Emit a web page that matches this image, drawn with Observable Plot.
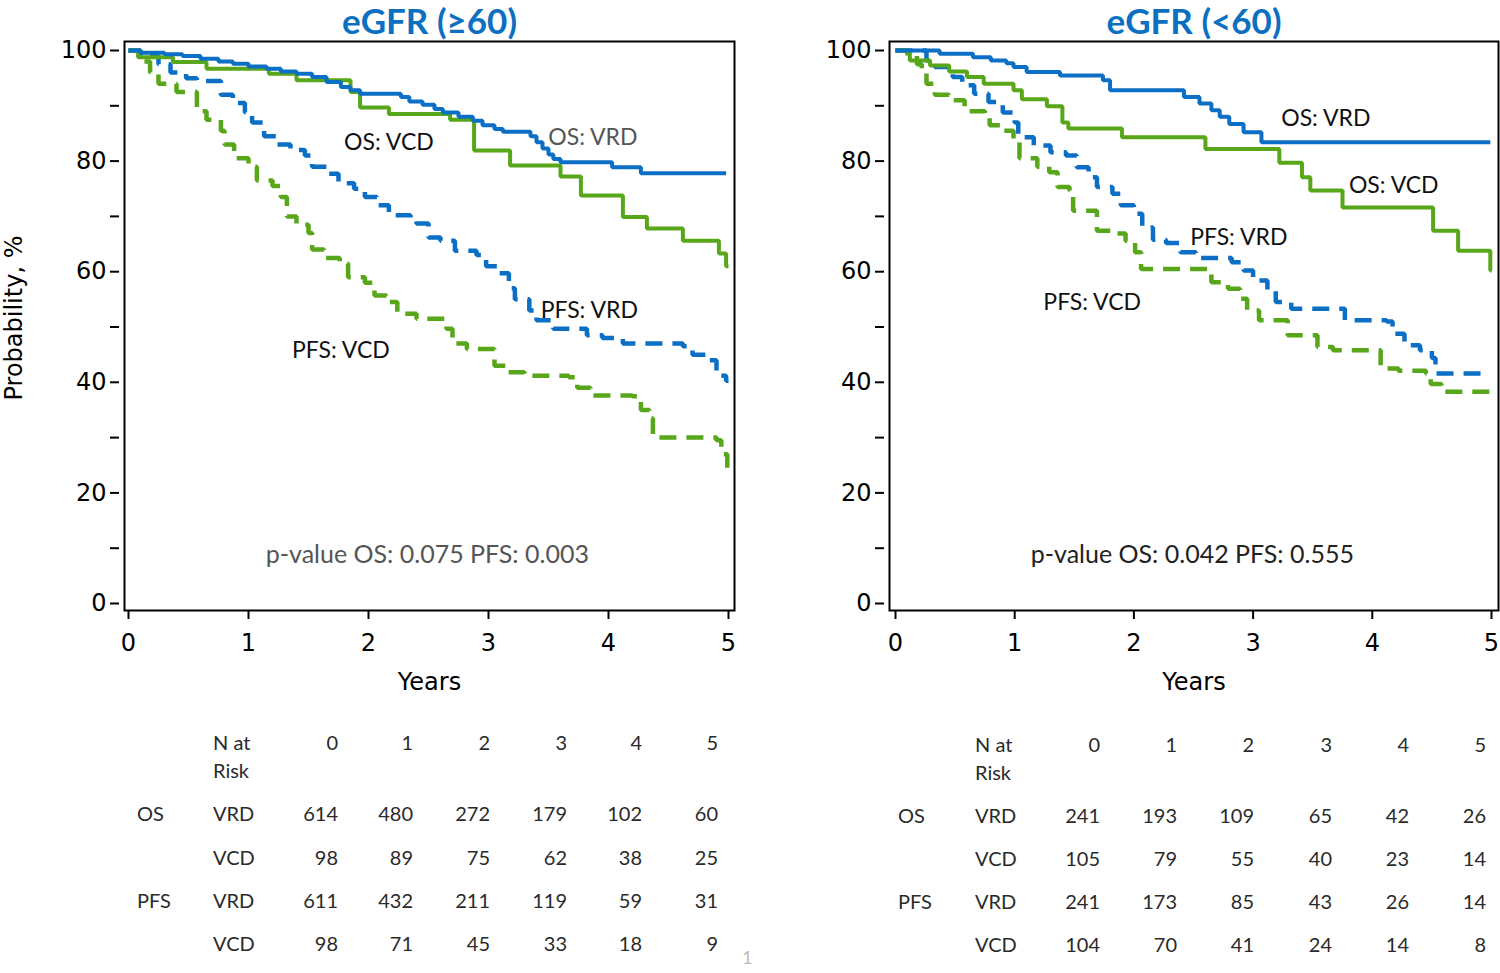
<!DOCTYPE html>
<html>
<head>
<meta charset="utf-8">
<script src="https://cdn.jsdelivr.net/npm/d3@7"></script>
<script src="https://cdn.jsdelivr.net/npm/@observablehq/plot@0.6"></script>
<style>
  body { margin: 0; background: #fff; }
  #root { position: relative; width: 1500px; height: 973px; overflow: hidden; background: #fff; font-family: Lato, "Open Sans", sans-serif; }
  .abs { position: absolute; white-space: nowrap; }
  .panel { position: absolute; top: 0; }
  .tcell { position: absolute; white-space: nowrap; font-family: Lato, sans-serif; font-size: 20px; color: #2a2a2a; line-height: 20px; }
</style>
</head>
<body>
<div id="root"></div>
<script>
// ---------------- DATA ----------------
const panelTitles = ["eGFR (\u226560)", "eGFR (<60)"];
const xTicks = [0, 1, 2, 3, 4, 5];
const yTicks = [0, 20, 40, 60, 80, 100];
const yMinorTicks = [10, 30, 50, 70, 90];

// Kaplan-Meier steps [years, %] — eGFR >= 60
const leftOsVRD = [[0,100],[0.1,99.6],[0.3,99.3],[0.45,99],[0.6,98.5],[0.75,98],[0.87,97.6],[1.0,97.1],[1.15,96.7],[1.27,96.2],[1.4,95.8],[1.53,95.2],[1.65,94.3],[1.77,93.4],[1.85,92.8],[1.93,92.2],[2.27,91.6],[2.34,90.8],[2.45,90.2],[2.55,89.4],[2.62,88.8],[2.75,88.0],[2.87,87.3],[2.95,86.5],[3.05,85.8],[3.12,85.3],[3.35,84.5],[3.4,83.4],[3.45,82.3],[3.5,81.2],[3.54,80.4],[3.6,79.8],[4.03,78.9],[4.27,77.8],[4.98,77.8]];
const leftOsVCD = [[0,100],[0.08,98.8],[0.37,97.9],[0.65,96.7],[1.17,95.8],[1.4,94.6],[1.85,92.5],[1.93,89.7],[2.17,88.5],[2.68,87.5],[2.88,81.9],[3.18,79.2],[3.6,77.2],[3.77,73.8],[4.12,69.9],[4.32,67.8],[4.62,65.6],[4.92,63.3],[4.98,61],[5.0,61]];
const leftPfsVRD = [[0,100],[0.1,99],[0.25,97.5],[0.35,96],[0.48,95],[0.57,94.5],[0.77,92],[0.87,90.5],[0.97,88.8],[1.03,87],[1.13,84.5],[1.24,83],[1.35,82],[1.47,81],[1.53,79],[1.65,77.7],[1.75,76],[1.88,75],[1.97,73.5],[2.07,72],[2.17,70.2],[2.35,69.6],[2.4,68.7],[2.5,66.2],[2.6,65.6],[2.72,63.8],[2.9,63],[2.98,61],[3.08,59.7],[3.17,57],[3.22,55],[3.34,53],[3.4,51.2],[3.54,49.7],[3.82,48.5],[3.95,48],[4.12,47],[4.62,46.5],[4.7,45],[4.82,44],[4.9,41.2],[4.98,40.3],[5.0,40.3]];
const leftPfsVCD = [[0,100],[0.1,98],[0.18,96],[0.25,94],[0.4,92.5],[0.57,89],[0.65,87.5],[0.77,85.5],[0.8,83],[0.88,80.5],[1.0,79],[1.07,76.5],[1.2,75.5],[1.27,73.5],[1.32,70],[1.4,68.5],[1.5,67],[1.53,64],[1.63,62.5],[1.76,61.5],[1.83,59],[1.97,58],[2.05,55.7],[2.15,54.5],[2.24,52.4],[2.4,51.5],[2.65,49.7],[2.7,47],[2.82,46],[3.05,43],[3.15,41.8],[3.3,41.2],[3.67,40.9],[3.74,39],[3.85,37.6],[4.2,37.5],[4.27,35],[4.34,33.5],[4.37,30],[4.9,29.5],[4.94,27],[4.99,24.5],[5.0,24.5]];

// Kaplan-Meier steps [years, %] — eGFR < 60
const rightOsVRD = [[0,100],[0.37,99.4],[0.65,98.8],[0.8,98.2],[0.93,97.7],[0.99,97],[1.1,96.1],[1.38,95.5],[1.74,94.6],[1.8,92.8],[2.42,91.6],[2.55,90.4],[2.65,89.2],[2.72,88],[2.8,86.7],[2.92,85.2],[3.07,83.4],[4.99,83.4]];
const rightOsVCD = [[0,100],[0.12,98.2],[0.29,97.3],[0.45,96.2],[0.6,95.2],[0.74,94],[0.99,92.8],[1.06,91.2],[1.27,89.9],[1.4,87],[1.45,85.9],[1.9,84.3],[2.6,82.2],[3.22,79.7],[3.41,77.1],[3.48,74.7],[3.75,71.6],[4.51,67.4],[4.72,63.8],[4.99,60.2],[5.0,60.2]];
const rightPfsVRD = [[0,100],[0.26,98.2],[0.33,97],[0.48,95.2],[0.56,93.7],[0.66,92.2],[0.78,90.7],[0.9,88.8],[1.0,87],[1.03,84.3],[1.16,82.8],[1.3,81.6],[1.43,81],[1.52,78.9],[1.62,77.1],[1.69,75.3],[1.82,74.1],[1.89,72],[2.0,70.5],[2.07,68],[2.16,65.8],[2.27,65.2],[2.39,63.5],[2.52,62.5],[2.82,61.7],[2.92,60.2],[3.0,58.4],[3.12,56.6],[3.19,54.5],[3.32,53.3],[3.77,51.2],[4.12,51],[4.17,48.8],[4.27,46.7],[4.4,45.8],[4.5,44.4],[4.53,41.6],[4.92,41.6]];
const rightPfsVCD = [[0,100],[0.1,99],[0.18,97.5],[0.22,96],[0.26,94],[0.33,92],[0.45,91],[0.58,89],[0.75,88.3],[0.79,86.5],[0.89,85.5],[0.99,83.7],[1.04,80.5],[1.19,79],[1.29,78],[1.36,75.3],[1.46,74.7],[1.49,71],[1.69,67.4],[1.82,66.9],[1.93,65.6],[2.01,63.5],[2.06,60.5],[2.65,58.1],[2.79,56.9],[2.89,55.1],[2.95,53],[3.05,51.2],[3.29,48.5],[3.54,46.4],[3.67,45.8],[4.07,42.5],[4.22,42.1],[4.45,41.6],[4.49,39.7],[4.58,38.3],[5.0,38.3]];

// In-plot labels [years, %, text]
const leftLabels = [[2.17,83.4,"OS: VCD"],[3.87,84.3,"OS: VRD"],[3.84,53,"PFS: VRD"],[1.77,45.8,"PFS: VCD"]];
const rightLabels = [[3.61,87.7,"OS: VRD"],[4.18,75.6,"OS: VCD"],[2.88,66.2,"PFS: VRD"],[1.65,54.4,"PFS: VCD"]];
const leftPValue = [[2.49,8.8,"p-value OS: 0.075 PFS: 0.003"]];
const rightPValue = [[2.49,8.8,"p-value OS: 0.042 PFS: 0.555"]];

// Number at risk
const riskHeader = ["0","1","2","3","4","5"];
const leftRiskOsVRD = [614,480,272,179,102,60];
const leftRiskOsVCD = [98,89,75,62,38,25];
const leftRiskPfsVRD = [611,432,211,119,59,31];
const leftRiskPfsVCD = [98,71,45,33,18,9];
const rightRiskOsVRD = [241,193,109,65,42,26];
const rightRiskOsVCD = [105,79,55,40,23,14];
const rightRiskPfsVRD = [241,173,85,43,26,14];
const rightRiskPfsVCD = [104,70,41,24,14,8];

// ---------------- STYLE ----------------
const BLUE = "#0c6fc6";
const GREEN = "#58a619";
const TITLE_BLUE = "#0b70c0";
const AXIS_FONT = "'DejaVu Sans', sans-serif";
const LABEL_FONT = "Lato, 'Open Sans', sans-serif";

const root = document.getElementById("root");

function kmLine(data, color, dashed) {
  return Plot.line(data, {
    x: d => d[0], y: d => d[1], curve: "step-after",
    stroke: color, strokeWidth: dashed ? 4.5 : 4,
    strokeDasharray: dashed ? "17,10" : null,
    strokeLinecap: "butt", strokeLinejoin: "miter"
  });
}

function panel(cfg) {
  const p = Plot.plot({
    width: cfg.width, height: 700,
    marginLeft: 124, marginTop: 41, marginRight: cfg.marginRight, marginBottom: 90,
    x: {domain: [0, 5], insetLeft: cfg.insetLeft, insetRight: cfg.insetRight},
    y: {domain: [0, 100], insetTop: 9, insetBottom: 7},
    style: {background: "transparent", overflow: "visible"},
    marks: [
      Plot.axisY(yTicks, {anchor: "left", tickSize: 9, tickPadding: 4, dx: -5, strokeWidth: 2,
        tickFormat: d => String(d), fontSize: 24, fontFamily: AXIS_FONT, fill: "#000", label: null}),
      Plot.axisY(yMinorTicks, {anchor: "left", tickSize: 9, dx: -5, strokeWidth: 2, tickFormat: () => "", label: null}),
      Plot.axisX(xTicks, {anchor: "bottom", tickSize: 9, tickPadding: 14, strokeWidth: 2,
        tickFormat: d => String(d), fontSize: 24, fontFamily: AXIS_FONT, fill: "#000", label: null}),
      kmLine(cfg.pfsVCD, GREEN, true),
      kmLine(cfg.pfsVRD, BLUE, true),
      kmLine(cfg.osVCD, GREEN, false),
      kmLine(cfg.osVRD, BLUE, false),
      Plot.frame({stroke: "#000", strokeWidth: 2}),
      Plot.text(cfg.labels, {x: d => d[0], y: d => d[1], text: d => d[2], fontSize: 23,
        fontFamily: LABEL_FONT, fill: (d) => cfg.labelColor(d[2]), textAnchor: "middle", lineAnchor: "middle"}),
      Plot.text(cfg.pvalue, {x: d => d[0], y: d => d[1], text: d => d[2], fontSize: 25,
        fontFamily: LABEL_FONT, fill: cfg.pColor, textAnchor: "middle", lineAnchor: "middle"}),
      Plot.text([cfg.title], {frameAnchor: "top", dy: -19, text: d => d, fontSize: 35, fontWeight: "bold",
        fontFamily: LABEL_FONT, fill: TITLE_BLUE, lineAnchor: "middle"}),
      Plot.text(["Years"], {frameAnchor: "bottom", dy: 72, text: d => d, fontSize: 24,
        fontFamily: AXIS_FONT, fill: "#000", lineAnchor: "middle"})
    ]
  });
  p.classList.add("panel");
  p.style.left = cfg.left + "px";
  root.appendChild(p);
}

panel({left: 0, width: 760, marginRight: 26, insetLeft: 4, insetRight: 6,
  osVRD: leftOsVRD, osVCD: leftOsVCD, pfsVRD: leftPfsVRD, pfsVCD: leftPfsVCD,
  labels: leftLabels, labelColor: t => (t === "OS: VRD" ? "#555" : "#111"),
  pvalue: leftPValue, pColor: "#555", title: panelTitles[0]});

panel({left: 765, width: 735, marginRight: 2, insetLeft: 6, insetRight: 7,
  osVRD: rightOsVRD, osVCD: rightOsVCD, pfsVRD: rightPfsVRD, pfsVCD: rightPfsVCD,
  labels: rightLabels, labelColor: () => "#111",
  pvalue: rightPValue, pColor: "#222", title: panelTitles[1]});

// Y axis title
const yt = document.createElement("div");
yt.className = "abs";
yt.textContent = "Probability, %";
Object.assign(yt.style, {left: "14px", top: "318px", fontFamily: AXIS_FONT, fontSize: "24px",
  lineHeight: "24px", color: "#000", transform: "translate(-50%,-50%) rotate(-90deg)"});
root.appendChild(yt);

// Number-at-risk tables
function cell(text, x, y, align) {
  const d = document.createElement("div");
  d.className = "tcell";
  d.textContent = text;
  if (align === "right") {
    d.style.left = (x - 100) + "px";
    d.style.width = "100px";
    d.style.textAlign = "right";
  } else {
    d.style.left = x + "px";
  }
  d.style.top = (y - 10) + "px";
  root.appendChild(d);
}
function riskTable(t) {
  cell("N at", t.labelX, t.rows[0], "left");
  cell("Risk", t.labelX, t.rows[1], "left");
  riskHeader.forEach((h, i) => cell(h, t.cols[i], t.rows[0], "right"));
  const body = [["OS","VRD",t.osVRD],["","VCD",t.osVCD],["PFS","VRD",t.pfsVRD],["","VCD",t.pfsVCD]];
  body.forEach((r, j) => {
    const y = t.rows[j + 2];
    if (r[0]) cell(r[0], t.groupX, y, "left");
    cell(r[1], t.labelX, y, "left");
    r[2].forEach((v, i) => cell(String(v), t.cols[i], y, "right"));
  });
}
riskTable({groupX: 137, labelX: 213, cols: [338,413,490,567,642,718], rows: [742,770,813,857,900,943],
  osVRD: leftRiskOsVRD, osVCD: leftRiskOsVCD, pfsVRD: leftRiskPfsVRD, pfsVCD: leftRiskPfsVCD});
riskTable({groupX: 898, labelX: 975, cols: [1100,1177,1254,1332,1409,1486], rows: [744,772,815,858,901,944],
  osVRD: rightRiskOsVRD, osVCD: rightRiskOsVCD, pfsVRD: rightRiskPfsVRD, pfsVCD: rightRiskPfsVCD});

// page number
const pn = document.createElement("div");
pn.className = "abs";
pn.textContent = "1";
Object.assign(pn.style, {left: "742px", top: "947px", fontFamily: LABEL_FONT, fontSize: "18px", lineHeight: "20px", color: "#bbb"});
root.appendChild(pn);
</script>
</body>
</html>
